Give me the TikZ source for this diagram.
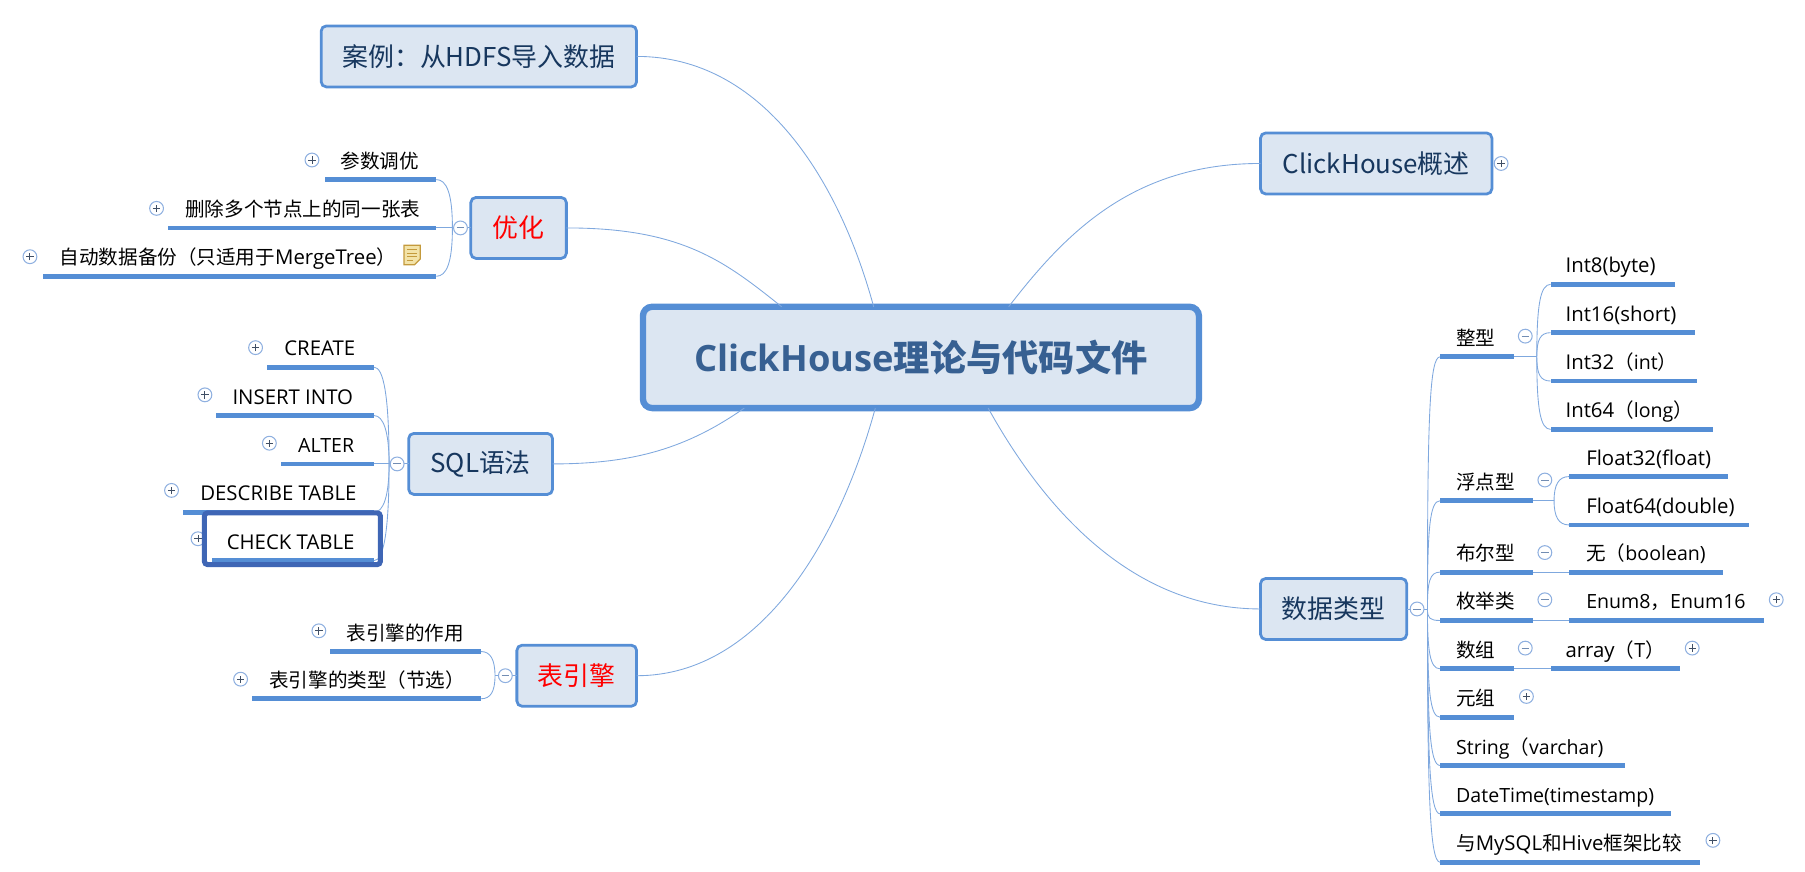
\documentclass[tikz,border=0pt]{standalone}
\usepackage{fontspec}
\setmainfont{Open Sans}
\newfontfamily\cjk{Noto Sans CJK SC}
\newcommand{\C}[1]{{\cjk #1}}
\newcommand{\U}[1]{{\fontsize{17.7}{20}\selectfont #1}}
\definecolor{boxfill}{HTML}{DCE6F2}
\definecolor{boxline}{HTML}{558ED5}
\definecolor{barcol}{HTML}{558ED5}
\definecolor{connc}{HTML}{7FA8DE}
\definecolor{topictxt}{HTML}{17375E}
\definecolor{roottxt}{HTML}{376092}
\definecolor{selcol}{HTML}{3F66B5}
\definecolor{togline}{HTML}{8FB0E0}
\definecolor{notefill}{HTML}{F3E3A8}
\definecolor{noteline}{HTML}{C49A3C}
\tikzset{
  x=1pt,y=-1pt,
  topicbox/.style={draw=boxline,fill=boxfill,line width=2.4pt,rounded corners=4.5pt,inner sep=0pt,outer sep=0pt,font=\fontsize{22.5}{26}\selectfont\cjk,text=topictxt},
  barnode/.style={fill=barcol,inner sep=0pt,outer sep=0pt,minimum height=4.2pt},
  lbl/.style={inner sep=0pt,outer sep=0pt,anchor=base west,font=\fontsize{17}{20}\selectfont,text=black},
  conn/.style={draw=connc,line width=0.75pt},
  togbase/.style={circle,draw=togline,fill=white,line width=0.9pt,minimum size=12pt,inner sep=0pt},
  togminus/.style={togbase,path picture={\draw[draw=togline!80!black,line width=0.8pt] ([xshift=-3.2pt]path picture bounding box.center) -- ([xshift=3.2pt]path picture bounding box.center);}},
  togplus/.style={togbase,path picture={\draw[draw=black!55!togline,line width=0.8pt] ([xshift=-3.2pt]path picture bounding box.center) -- ([xshift=3.2pt]path picture bounding box.center) ([yshift=-3.2pt]path picture bounding box.center) -- ([yshift=3.2pt]path picture bounding box.center);}},
}
\newcommand{\topic}[6][topictxt]{%
  \pgfmathsetmacro\myW{#4-#3}\pgfmathsetmacro\myX{(#3+#4)/2}%
  \node[topicbox,text=#1,minimum width=\myW pt,minimum height=53pt] (#2) at (\myX,#5) {#6};}
\newcommand{\leaf}[6]{%
  \pgfmathsetmacro\myW{#3-#2}\pgfmathsetmacro\myX{(#2+#3)/2}\pgfmathsetmacro\myY{#4-10}%
  \node[barnode,minimum width=\myW pt] (#1) at (\myX,#4) {};
  \node[lbl] (#1-t) at (#5,\myY) {#6};}
\newcommand{\fan}[4]{\draw[conn] (#1) .. controls +(0,#3) and +(#4,0) .. (#2);}
\newcommand{\tog}[4]{\node[tog#2] (#1) at (#3,#4) {};}
\begin{document}
\begin{tikzpicture}
\useasboundingbox (0,0) rectangle (1568,757.5);
% root
\node[draw=boxline,fill=boxfill,line width=5.5pt,rounded corners=8pt,inner sep=0pt,outer sep=0pt,minimum width=483pt,minimum height=88pt,text=roottxt,font=\fontsize{31.5}{38}\selectfont\bfseries] (root) at (800,310.5) {ClickHouse{\cjk\bfseries 理论与代码文件}};
% main topics
\topic{case}{279}{553}{49}{案例：从HDFS导入数据}
\topic[red]{opt}{409}{492}{198}{优化}
\topic{sql}{355}{480}{403}{SQL语法}
\topic[red]{eng}{449}{553}{587}{表引擎}
\topic{over}{1095}{1296}{142}{ClickHouse概述}
\topic{dtype}{1095}{1222}{529}{数据类型}
% root connectors
\draw[conn] (case.east) .. controls +(110,0) and +(-30,-110) .. (root.133.4);
\draw[conn] (opt.east) .. controls +(100,0) and +(-50,-40) .. (root.160);
\draw[conn] (sql.east) .. controls +(70,0) and +(-50,35) .. (root.196.4);
\draw[conn] (eng.east) .. controls +(110,0) and +(-30,110) .. (root.228.7);
\draw[conn] (over.west) .. controls +(-110,0) and +(50,-65) .. (root.30.3);
\draw[conn] (dtype.west) .. controls +(-110,0) and +(50,90) .. (root.323.7);
% optimisation
\leaf{o1}{282}{379}{156}{296}{\C{参数调优}}
\leaf{o2}{146}{379}{198}{161}{\C{删除多个节点上的同一张表}}
\leaf{o3}{37}{379}{240}{52}{\C{自动数据备份（只适用于}\U{MergeTree}\C{）}}
\coordinate (oJ) at (393,198);
\fan{oJ}{o1.east}{-30}{9}
\draw[conn] (o2.east) -- (opt.west);
\fan{oJ}{o3.east}{30}{9}
\tog{oT}{minus}{400}{198}
\tog{o1p}{plus}{271}{139}
\tog{o2p}{plus}{136}{181}
\tog{o3p}{plus}{26}{223}
\path[draw=noteline,fill=notefill,line width=1.1pt] (351,213) -- (365,213) -- (365,225) -- (360,230) -- (351,230) -- cycle;
\path[draw=noteline,line width=1pt] (353.5,217) -- (362.5,217) (353.5,220) -- (362.5,220) (353.5,223) -- (362.5,223) (353.5,226) -- (359,226);
% SQL
\leaf{s1}{232}{325}{319}{247}{\U{CREATE}}
\leaf{s2}{188}{325}{361}{202}{\U{INSERT INTO}}
\leaf{s3}{244}{325}{403}{259}{ALTER}
\leaf{s4}{159}{325}{445}{174}{\U{DESCRIBE TABLE}}
\leaf{s5}{184}{325}{487}{197}{\U{CHECK TABLE}}
\coordinate (sJ) at (338,403);
\fan{sJ}{s1.east}{-60}{8}
\fan{sJ}{s2.east}{-28}{8}
\draw[conn] (s3.east) -- (sql.west);
\fan{sJ}{s4.east}{28}{8}
\fan{sJ}{s5.east}{60}{8}
\tog{sT}{minus}{345}{403}
\tog{s1p}{plus}{222}{302}
\tog{s2p}{plus}{178}{343}
\tog{s3p}{plus}{234}{385}
\tog{s4p}{plus}{149}{426}
\tog{s5p}{plus}{172}{468}
\node[draw=selcol,line width=4.4pt,rounded corners=3pt,minimum width=153pt,minimum height=45pt,inner sep=0pt] (sel) at (254,468) {};
% engines
\leaf{e1}{287}{418}{566}{301}{\C{表引擎的作用}}
\leaf{e2}{219}{418}{607}{234}{\C{表引擎的类型（节选）}}
\coordinate (eJ) at (430,587);
\fan{eJ}{e1.east}{-14}{8}
\fan{eJ}{e2.east}{14}{8}
\draw[conn] (eJ) -- (eng.west);
\tog{eT}{minus}{439}{587}
\tog{e1p}{plus}{277}{548}
\tog{e2p}{plus}{209}{590}
% overview toggle
\tog{ovp}{plus}{1304}{142}
% data types
\leaf{d1}{1251}{1315}{310}{1265}{\C{整型}}
\leaf{d2}{1251}{1332}{435}{1265}{\C{浮点型}}
\leaf{d3}{1251}{1332}{497}{1265}{\C{布尔型}}
\leaf{d4}{1251}{1332}{539}{1265}{\C{枚举类}}
\leaf{d5}{1251}{1315}{581}{1265}{\C{数组}}
\leaf{d6}{1251}{1315}{623}{1265}{\C{元组}}
\leaf{d7}{1251}{1412}{665}{1265}{String\C{（}varchar)}
\leaf{d8}{1251}{1452}{707}{1265}{DateTime(timestamp)}
\leaf{d9}{1251}{1477}{749}{1265}{\C{与}\U{MySQL}\C{和}\U{Hive}\C{框架比较}}
\coordinate (dJ) at (1240,529);
\draw[conn] (dtype.east) -- (dJ);
\fan{dJ}{d1.west}{-170}{-9}
\fan{dJ}{d2.west}{-70}{-9}
\fan{dJ}{d3.west}{-24}{-9}
\fan{dJ}{d4.west}{8}{-9}
\fan{dJ}{d5.west}{36}{-9}
\fan{dJ}{d6.west}{70}{-9}
\fan{dJ}{d7.west}{100}{-9}
\fan{dJ}{d8.west}{130}{-9}
\fan{dJ}{d9.west}{160}{-9}
\tog{dT}{minus}{1231}{529}
\leaf{i1}{1347}{1455}{247}{1360}{\U{Int8(byte)}}
\leaf{i2}{1347}{1472}{289}{1360}{\U{Int16(short)}}
\leaf{i3}{1347}{1474}{331}{1360}{\U{Int32}\C{（}int\C{）}}
\leaf{i4}{1347}{1488}{373}{1360}{\U{Int64}\C{（}long\C{）}}
\coordinate (iJ) at (1335,310);
\draw[conn] (d1.east) -- (iJ);
\fan{iJ}{i1.west}{-45}{-9}
\fan{iJ}{i2.west}{-15}{-9}
\fan{iJ}{i3.west}{15}{-9}
\fan{iJ}{i4.west}{45}{-9}
\tog{d1T}{minus}{1325}{292}
\leaf{f1}{1363}{1501}{414}{1378}{\U{Float32(float)}}
\leaf{f2}{1363}{1519}{456}{1378}{\U{Float64(double)}}
\coordinate (fJ) at (1350,435);
\draw[conn] (d2.east) -- (fJ);
\fan{fJ}{f1.west}{-14}{-9}
\fan{fJ}{f2.west}{14}{-9}
\tog{d2T}{minus}{1342}{417}
\leaf{b1}{1363}{1497}{497}{1378}{\C{无（}boolean)}
\draw[conn] (d3.east) -- (b1.west);
\tog{d3T}{minus}{1342}{480}
\leaf{n1}{1363}{1532}{539}{1378}{Enum8\C{，}Enum16}
\draw[conn] (d4.east) -- (n1.west);
\tog{d4T}{minus}{1342}{521}
\tog{n1p}{plus}{1543}{521}
\leaf{a1}{1347}{1459}{581}{1360}{\U{array}\C{（}T\C{）}}
\draw[conn] (d5.east) -- (a1.west);
\tog{d5T}{minus}{1325}{563}
\tog{a1p}{plus}{1470}{563}
\tog{d6p}{plus}{1326}{605}
\tog{d9p}{plus}{1488}{730}
\end{tikzpicture}
\end{document}
